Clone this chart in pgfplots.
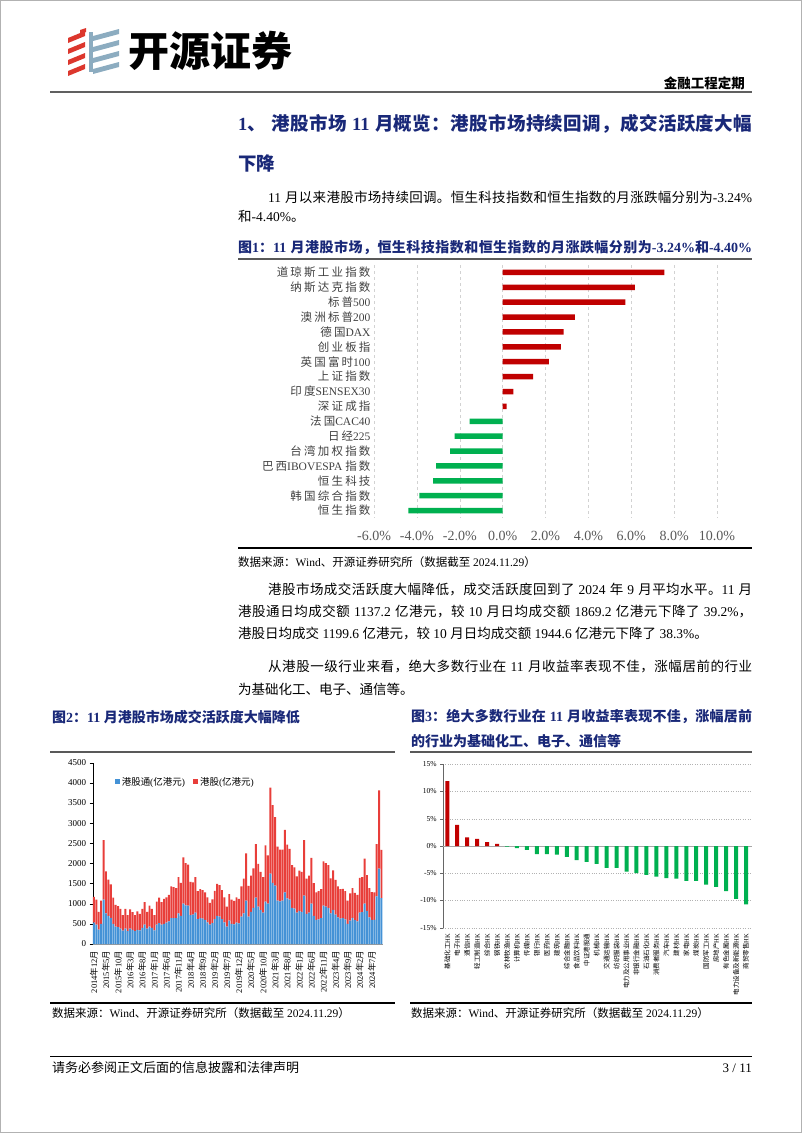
\documentclass[border=0pt]{standalone}
\usepackage{pgfplots}
\pgfplotsset{compat=1.18}
\usepackage{pgfplotstable}
\usepackage{fontspec}
\setmainfont{Liberation Serif}
\newfontfamily\cjk{Noto Sans CJK SC}
\newdimen\cjkgap \cjkgap=0pt
\newXeTeXintercharclass\CJKcls
\makeatletter
\def\setcjkrange#1#2{\count@=#1\relax\loop\XeTeXcharclass\count@=\CJKcls\relax\ifnum\count@<#2\relax\advance\count@ by 1\repeat}
\makeatother
\setcjkrange{"4E00}{"9FFF}
\setcjkrange{"3000}{"303F}
\setcjkrange{"FF00}{"FFEF}
\XeTeXinterchartoks 0 \CJKcls = {\cjk}
\XeTeXinterchartoks 4095 \CJKcls = {\cjk}
\XeTeXinterchartoks \CJKcls 0 = {\rmfamily}
\XeTeXinterchartoks \CJKcls 4095 = {\rmfamily}
\XeTeXinterchartoks \CJKcls \CJKcls = {\hskip\cjkgap plus 1pt}
\XeTeXinterchartokenstate=1
\newcommand\fs[1]{\fontsize{#1}{#1}\selectfont}
\definecolor{navy}{RGB}{25,40,120}
\definecolor{barred}{RGB}{192,0,0}
\definecolor{bargreen}{RGB}{0,176,80}
\definecolor{volblue}{RGB}{68,146,214}
\definecolor{volred}{RGB}{232,62,58}
\definecolor{logored}{RGB}{220,55,45}
\definecolor{logoblue}{RGB}{140,172,192}
\definecolor{tickgray}{RGB}{89,89,89}
\definecolor{labgray}{RGB}{64,64,64}

\pgfplotstableread{
x b r
0 530 640
1 480 620
2 360 440
3 500 580
4 1100 1480
5 760 1040
6 700 900
7 650 830
8 500 650
9 430 540
10 420 520
11 380 490
12 330 390
13 380 490
14 320 400
15 380 480
16 350 440
17 320 400
18 350 460
19 340 410
20 400 470
21 480 560
22 380 420
23 430 520
24 400 470
25 340 380
26 480 570
27 520 630
28 480 560
29 500 620
30 530 630
31 560 660
32 640 790
33 640 770
34 640 750
35 760 900
36 700 820
37 1000 1150
38 960 1050
39 950 1020
40 720 820
41 730 800
42 780 880
43 620 690
44 640 720
45 630 710
46 600 680
47 540 620
48 480 540
49 520 590
50 620 700
51 700 790
52 680 780
53 620 720
54 540 620
55 430 500
56 580 660
57 500 600
58 490 580
59 530 630
60 510 610
61 680 750
62 760 860
63 1080 1170
64 680 760
65 800 900
66 900 980
67 1150 1330
68 930 1060
69 840 950
70 780 880
71 1050 1400
72 1000 1200
73 1750 2130
74 1520 1930
75 1450 1700
76 1080 1340
77 1060 1280
78 1080 1260
79 1280 1550
80 1130 1340
81 1100 1260
82 900 1060
83 880 1020
84 780 900
85 820 1000
86 800 990
87 1200 1380
88 750 870
89 780 920
90 1000 1140
91 700 810
92 600 680
93 610 700
94 640 720
95 950 1100
96 930 1080
97 900 1060
98 760 870
99 850 980
100 730 860
101 660 770
102 630 730
103 640 730
104 610 700
105 500 580
106 580 680
107 650 740
108 590 680
109 560 660
110 780 860
111 790 870
112 1000 1120
113 820 890
114 660 730
115 600 690
116 600 680
117 1180 1300
118 1869 1945
119 1137 1200
}\voldata

\begin{document}
\begin{tikzpicture}
\useasboundingbox (0pt,0pt) rectangle (802pt,-1133pt);
\draw[gray!60, line width=1pt] (0.5pt,-0.5pt) rectangle (801.5pt,-1132.5pt);

% logo
\foreach \yy in {38,49,60,71}{
  \fill[logored] (68pt,-\yy pt) -- (85pt,-\yy pt+7pt) -- (85pt,-\yy pt+2pt) -- (68pt,-\yy pt-5pt) -- cycle;
}
\fill[logored] (80pt,-30pt) -- (86pt,-28pt) -- (86pt,-32pt) -- (80pt,-34pt) -- cycle;
\foreach \yy in {36,47,58,69}{
  \fill[logoblue] (93pt,-\yy pt) -- (119pt,-\yy pt+7pt) -- (119pt,-\yy pt+2pt) -- (93pt,-\yy pt-5pt) -- cycle;
}
\fill[logoblue] (89pt,-32pt) rectangle (93pt,-72pt);
\node[anchor=west, inner sep=0] at (128pt,-51pt) {\fs{41}\bfseries 开源证券};
\node[anchor=east, inner sep=0] at (745pt,-83pt) {\fs{13.5}\bfseries 金融工程定期};
\draw[gray!75!black, line width=2pt] (50pt,-92pt) -- (752pt,-92pt);

% heading
\node[anchor=west, inner sep=0, text=navy] at (238pt,-124pt) {\fs{18.5}\bfseries\makebox[514pt][s]{1、 港股市场 11 月概览：港股市场持续回调，成交活跃度大幅}};
\node[anchor=west, inner sep=0, text=navy] at (238pt,-163pt) {\fs{18.5}\bfseries 下降};

% paragraph 1
\node[anchor=west, inner sep=0] at (268pt,-197pt) {\fs{13.5}\makebox[484pt][s]{11 月以来港股市场持续回调。恒生科技指数和恒生指数的月涨跌幅分别为-3.24\%}};
\node[anchor=west, inner sep=0] at (238pt,-216pt) {\fs{13.5}和-4.40\%。};

% figure 1 title
\node[anchor=west, inner sep=0, text=navy] at (238pt,-248pt) {\fs{14}\bfseries\makebox[514pt][s]{图1：11 月港股市场，恒生科技指数和恒生指数的月涨跌幅分别为-3.24\%和-4.40\%}};
\draw[gray!70!black, line width=1.5pt] (238pt,-259pt) -- (752pt,-259pt);

\begin{axis}[at={(374pt,-265pt)}, anchor=north west, scale only axis,
  width=343pt, height=253pt,
  xmin=-6, xmax=10, ymin=-0.5, ymax=16.5, y dir=reverse,
  xtick={-6,-4,-2,0,2,4,6,8,10},
  xticklabels={-6.0\%,-4.0\%,-2.0\%,0.0\%,2.0\%,4.0\%,6.0\%,8.0\%,10.0\%},
  ytick={0,1,...,16},
  yticklabels={道琼斯工业指数,纳斯达克指数,标普500,澳洲标普200,德国DAX,创业板指,英国富时100,上证指数,印度SENSEX30,深证成指,法国CAC40,日经225,台湾加权指数,巴西IBOVESPA 指数,恒生科技,韩国综合指数,恒生指数},
  xmajorgrids, major grid style={dashed, gray!35},
  axis line style={draw=none}, major tick length=0pt,
  xticklabel style={font=\fs{14}, text=tickgray, yshift=-10pt},
  yticklabel style={font={\fs{11.5}\cjkgap=2.2pt}, text=labgray},
  clip=false]
\addplot[xbar, bar width=5.5pt, bar shift=0pt, fill=barred, draw=none] coordinates {(7.54,0) (6.17,1) (5.73,2) (3.37,3) (2.84,4) (2.72,5) (2.16,6) (1.42,7) (0.50,8) (0.19,9)};
\addplot[xbar, bar width=5.5pt, bar shift=0pt, fill=bargreen, draw=none] coordinates {(-1.54,10) (-2.24,11) (-2.45,12) (-3.10,13) (-3.24,14) (-3.88,15) (-4.40,16)};
\end{axis}

\draw[black, line width=1.2pt] (238pt,-548pt) -- (752pt,-548pt);
\node[anchor=west, inner sep=0] at (238pt,-562pt) {\fs{11.5}数据来源：Wind、开源证券研究所（数据截至 2024.11.29）};

% paragraph 2
\node[anchor=west, inner sep=0] at (268pt,-589pt) {\fs{13.5}\makebox[484pt][s]{港股市场成交活跃度大幅降低，成交活跃度回到了 2024 年 9 月平均水平。11 月}};
\node[anchor=west, inner sep=0] at (238pt,-611pt) {\fs{13.5}\makebox[514pt][s]{港股通日均成交额 1137.2 亿港元，较 10 月日均成交额 1869.2 亿港元下降了 39.2\%，}};
\node[anchor=west, inner sep=0] at (238pt,-633pt) {\fs{13.5}港股日均成交 1199.6 亿港元，较 10 月日均成交额 1944.6 亿港元下降了 38.3\%。};

% paragraph 3
\node[anchor=west, inner sep=0] at (268pt,-666pt) {\fs{13.5}\makebox[484pt][s]{从港股一级行业来看，绝大多数行业在 11 月收益率表现不佳，涨幅居前的行业}};
\node[anchor=west, inner sep=0] at (238pt,-689pt) {\fs{13.5}为基础化工、电子、通信等。};

% figure 2 / 3 titles
\node[anchor=west, inner sep=0, text=navy] at (52pt,-717pt) {\fs{14}\bfseries 图2：11 月港股市场成交活跃度大幅降低};
\node[anchor=west, inner sep=0, text=navy] at (411pt,-717pt) {\fs{14}\bfseries\makebox[341pt][s]{图3：绝大多数行业在 11 月收益率表现不佳，涨幅居前}};
\node[anchor=west, inner sep=0, text=navy] at (411pt,-741pt) {\fs{14}\bfseries 的行业为基础化工、电子、通信等};
\draw[gray!70!black, line width=1.3pt] (50pt,-752pt) -- (395pt,-752pt);
\draw[gray!70!black, line width=1.3pt] (410pt,-752pt) -- (752pt,-752pt);

% figure 2
\begin{axis}[at={(92.7pt,-944pt)}, anchor=south west, scale only axis,
  width=290pt, height=181.3pt,
  xmin=-0.5, xmax=119.5, ymin=0, ymax=4500,
  ytick={0,500,...,4500},
  /pgf/number format/assume math mode=true,
  yticklabel style={font=\fs{9}, /pgf/number format/1000 sep={}},
  xtick={0,5,...,115},
  xticklabels={2014年12月,2015年5月,2015年10月,2016年3月,2016年8月,2017年1月,2017年6月,2017年11月,2018年4月,2018年9月,2019年2月,2019年7月,2019年12月,2020年5月,2020年10月,2021年3月,2021年8月,2022年1月,2022年6月,2022年11月,2023年4月,2023年9月,2024年2月,2024年7月},
  xticklabel style={rotate=90, anchor=east, font=\fs{8.5}},
  axis lines*=left, tick align=outside,
  x axis line style={draw=gray!80}, y axis line style={draw=black},
  xtick style={draw=none}, ytick style={draw=black}, major tick length=3pt,
  ybar stacked, bar width=1.9pt,
  legend style={at={(0.065,0.894)}, anchor=west, draw=none, fill=none, font=\fs{9.5}, legend columns=2, /tikz/every even column/.append style={column sep=6pt}},
  clip=false]
\addplot[fill=volblue, draw=none, legend image code/.code={\fill[volblue] (0pt,-2.5pt) rectangle (5pt,2.5pt);}] table[x=x, y=b] {\voldata};
\addlegendentry{港股通(亿港元)}
\addplot[fill=volred, draw=none, legend image code/.code={\fill[volred] (0pt,-2.5pt) rectangle (5pt,2.5pt);}] table[x=x, y=r] {\voldata};
\addlegendentry{港股(亿港元)}
\end{axis}

% figure 3
\begin{axis}[at={(442.7pt,-927.7pt)}, anchor=south west, scale only axis,
  width=309pt, height=163.4pt,
  xmin=-0.46, xmax=30.57, ymin=-15, ymax=15,
  ytick={-15,-10,...,15},
  yticklabels={-15\%,-10\%,-5\%,0\%,5\%,10\%,15\%},
  yticklabel style={font=\fs{7.5}},
  xtick={0,1,...,30},
  xticklabels={基础化工HK,电子HK,通信HK,轻工制造HK,综合HK,钢铁HK,农林牧渔HK,计算机HK,传媒HK,银行HK,医药HK,建筑HK,综合金融HK,食品饮料HK,中证港股通,机械HK,交通运输HK,纺织服装HK,电力及公用事业HK,非银行金融HK,石油石化HK,消费者服务HK,汽车HK,建材HK,家电HK,煤炭HK,国防军工HK,房地产HK,有色金属HK,电力设备及新能源HK,商贸零售HK},
  xticklabel style={rotate=90, anchor=east, font=\fs{6.5}},
  axis lines*=left, tick align=outside,
  x axis line style={draw=none}, y axis line style={draw=gray!80!black},
  xtick style={draw=none}, ytick style={draw=gray!80!black}, major tick length=2.5pt,
  ymajorgrids, major grid style={dotted, gray!60},
  extra y ticks={0}, extra y tick labels={},
  extra y tick style={ymajorgrids=true, major grid style={solid, draw=gray!70}, ytick style={draw=none}},
  clip=false]
\addplot[ybar, bar width=4pt, bar shift=0pt, fill=barred, draw=none] coordinates {(0,11.9) (1,3.9) (2,1.6) (3,1.3) (4,0.7) (5,0.4)};
\addplot[ybar, bar width=4pt, bar shift=0pt, fill=bargreen, draw=none] coordinates {(6,-0.1) (7,-0.4) (8,-0.7) (9,-1.5) (10,-1.5) (11,-1.6) (12,-2.0) (13,-2.6) (14,-2.9) (15,-3.3) (16,-4.0) (17,-4.0) (18,-4.7) (19,-5.0) (20,-5.3) (21,-5.6) (22,-5.9) (23,-6.0) (24,-6.4) (25,-6.4) (26,-7.1) (27,-7.5) (28,-8.3) (29,-9.7) (30,-10.7)};
\end{axis}

% sources
\draw[black, line width=1.2pt] (50pt,-1003pt) -- (395pt,-1003pt);
\draw[black, line width=1.2pt] (410pt,-1003pt) -- (752pt,-1003pt);
\node[anchor=west, inner sep=0] at (52pt,-1013pt) {\fs{11.5}数据来源：Wind、开源证券研究所（数据截至 2024.11.29）};
\node[anchor=west, inner sep=0] at (411pt,-1013pt) {\fs{11.5}数据来源：Wind、开源证券研究所（数据截至 2024.11.29）};

% footer
\draw[black, line width=1pt] (50pt,-1056pt) -- (752pt,-1056pt);
\node[anchor=west, inner sep=0] at (52pt,-1068pt) {\fs{13}请务必参阅正文后面的信息披露和法律声明};
\node[anchor=east, inner sep=0] at (752pt,-1068pt) {\fs{13}3 / 11};
\end{tikzpicture}
\end{document}
